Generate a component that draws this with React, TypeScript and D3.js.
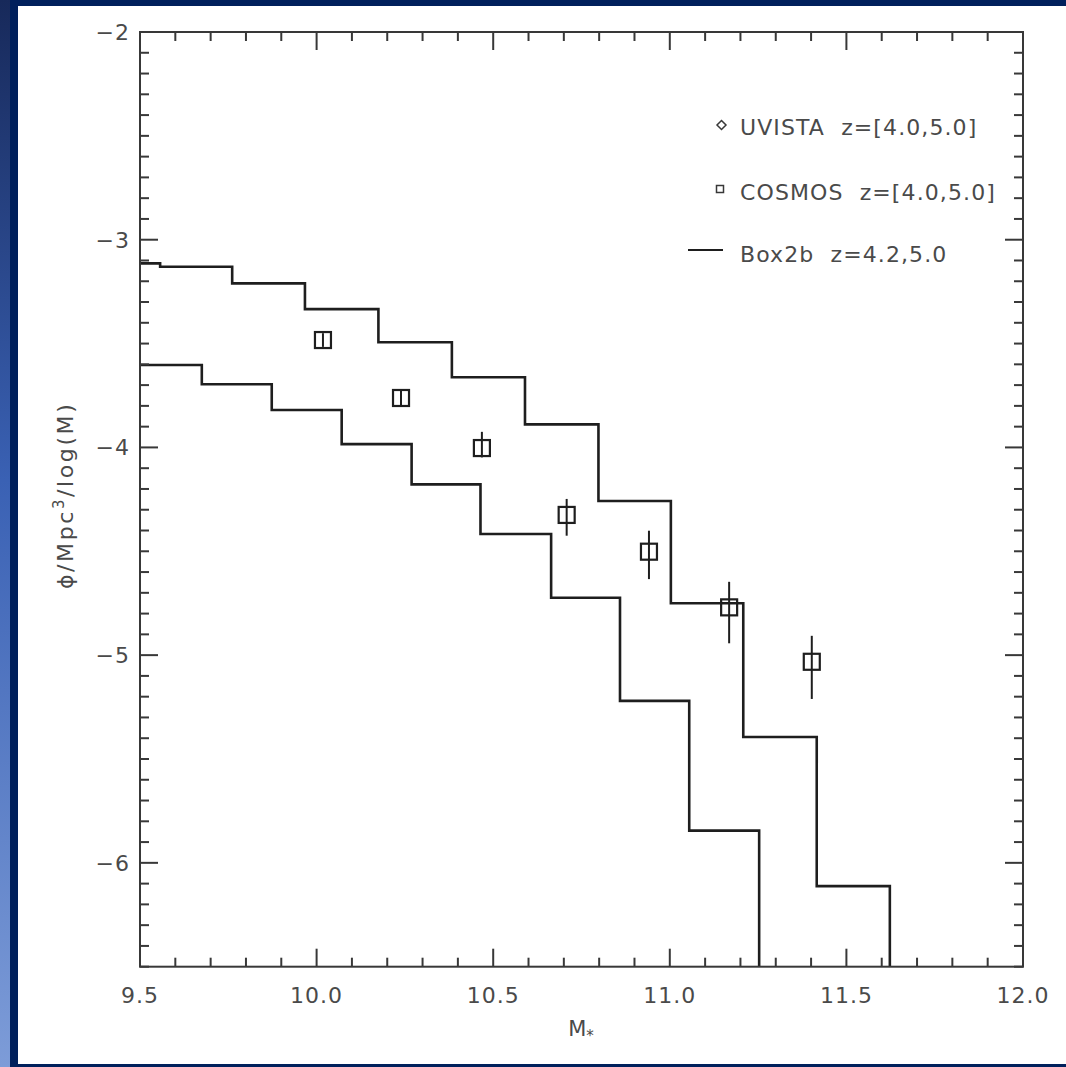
import React from "react";
import * as d3 from "d3";

// Box2b simulated stellar mass function, z = 4.2 (bin edges and log phi per bin)
const box2bZ42Edges = [9.5, 9.557, 9.761, 9.967, 10.175, 10.383, 10.59, 10.798, 11.003, 11.208, 11.416, 11.623];
const box2bZ42Phi = [-3.114, -3.13, -3.21, -3.334, -3.494, -3.662, -3.889, -4.258, -4.75, -5.394, -6.112];

// Box2b simulated stellar mass function, z = 5.0
const box2bZ50Edges = [9.5, 9.675, 9.873, 10.071, 10.269, 10.464, 10.664, 10.859, 11.055, 11.253];
const box2bZ50Phi = [-3.603, -3.696, -3.82, -3.984, -4.178, -4.417, -4.724, -5.22, -5.845];

// COSMOS observations, z = [4.0, 5.0]
const cosmosMass = [10.018, 10.239, 10.468, 10.708, 10.941, 11.168, 11.402];
const cosmosPhi = [-3.483, -3.762, -4.003, -4.325, -4.502, -4.77, -5.032];
const cosmosPhiHigh = [-3.45, -3.725, -3.925, -4.248, -4.401, -4.647, -4.907];
const cosmosPhiLow = [-3.516, -3.8, -4.048, -4.425, -4.634, -4.943, -5.211];

const xTickLabels = ["9.5", "10.0", "10.5", "11.0", "11.5", "12.0"];
const yTickLabels = ["−2", "−3", "−4", "−5", "−6"];

const legendLabels = ["UVISTA  z=[4.0,5.0]", "COSMOS  z=[4.0,5.0]", "Box2b  z=4.2,5.0"];

const W = 1066;
const H = 1067;
const FONT = "'DejaVu Sans', sans-serif";
const INK = "#4a4a4a";
const AXIS = "#383838";
const LINE = "#1e1e1e";

export default function App() {
  const x = d3.scaleLinear().domain([9.5, 12.0]).range([140, 1023]);
  const y = d3.scaleLinear().domain([-6.5, -2.0]).range([966.7, 32]);
  const [x0, x1] = x.range();
  const [y0, y1] = y.range(); // y0 bottom, y1 top

  const stepPath = (edges: number[], vals: number[]) => {
    const pts: [number, number][] = vals.map((v, i) => [edges[i], v]);
    pts.push([edges[edges.length - 1], vals[vals.length - 1]]);
    pts.push([edges[edges.length - 1], -7]);
    return d3
      .line<[number, number]>()
      .x((d) => x(d[0]))
      .y((d) => y(d[1]))
      .curve(d3.curveStepAfter)(pts) as string;
  };

  const xMinor = d3.range(95, 121).map((v) => v / 10);
  const yMinor = d3.range(-65, -19).map((v) => v / 10);
  const isMajorX = (v: number) => Math.abs(v * 2 - Math.round(v * 2)) < 1e-6;
  const isMajorY = (v: number) => Math.abs(v - Math.round(v)) < 1e-6;
  const majorLen = 18;
  const minorLen = 9;

  const xMajors = xTickLabels.map((t) => parseFloat(t));
  const yMajors = yTickLabels.map((t) => parseFloat(t.replace("−", "-")));

  const sq = 16;
  const pre = { whiteSpace: "pre" as const };

  return (
    <svg
      width={W}
      height={H}
      viewBox={`0 0 ${W} ${H}`}
      style={{ position: "absolute", left: 0, top: 0, display: "block" }}
    >
      <defs>
        <linearGradient id="slideBg" x1="0" y1="0" x2="0" y2="1">
          <stop offset="0" stopColor="#17295a" />
          <stop offset="0.45" stopColor="#3a61b4" />
          <stop offset="1" stopColor="#7d9cd8" />
        </linearGradient>
        <clipPath id="plotClip">
          <rect x={x0} y={y1} width={x1 - x0} height={y0 - y1} />
        </clipPath>
      </defs>

      {/* slide frame */}
      <rect x={0} y={0} width={W} height={H} fill="url(#slideBg)" />
      <rect x={10} y={0} width={W - 10} height={H} fill="#00205c" />
      <rect x={18} y={6} width={W - 18} height={1058} fill="#ffffff" />

      {/* step curves */}
      <g clipPath="url(#plotClip)" fill="none" stroke={LINE} strokeWidth={2.6} strokeLinejoin="miter">
        <path d={stepPath(box2bZ42Edges, box2bZ42Phi)} />
        <path d={stepPath(box2bZ50Edges, box2bZ50Phi)} />
      </g>

      {/* COSMOS points with error bars */}
      <g stroke={LINE} fill="none">
        {cosmosMass.map((m, i) => (
          <g key={i}>
            <line x1={x(m)} x2={x(m)} y1={y(cosmosPhiHigh[i])} y2={y(cosmosPhiLow[i])} strokeWidth={2} />
            <rect x={x(m) - sq / 2} y={y(cosmosPhi[i]) - sq / 2} width={sq} height={sq} strokeWidth={2.2} />
          </g>
        ))}
      </g>

      {/* axes box */}
      <rect x={x0} y={y1} width={x1 - x0} height={y0 - y1} fill="none" stroke={AXIS} strokeWidth={2} />

      {/* ticks */}
      <g stroke={AXIS} strokeWidth={2}>
        {xMinor.map((v, i) => {
          const L = isMajorX(v) ? majorLen : minorLen;
          return (
            <g key={`xt${i}`}>
              <line x1={x(v)} x2={x(v)} y1={y0} y2={y0 - L} />
              <line x1={x(v)} x2={x(v)} y1={y1} y2={y1 + L} />
            </g>
          );
        })}
        {yMinor.map((v, i) => {
          const L = isMajorY(v) ? majorLen : minorLen;
          return (
            <g key={`yt${i}`}>
              <line x1={x0} x2={x0 + L} y1={y(v)} y2={y(v)} />
              <line x1={x1} x2={x1 - L} y1={y(v)} y2={y(v)} />
            </g>
          );
        })}
      </g>

      {/* tick labels */}
      <g fill={INK} fontFamily={FONT} fontSize={22} letterSpacing={1}>
        {xTickLabels.map((t, i) => (
          <text key={`xl${i}`} x={x(xMajors[i])} y={1003} textAnchor="middle">
            {t}
          </text>
        ))}
        {yTickLabels.map((t, i) => (
          <text key={`yl${i}`} x={130} y={y(yMajors[i]) + 8} textAnchor="end">
            {t}
          </text>
        ))}
      </g>

      {/* axis titles */}
      <text
        x={581}
        y={1036}
        textAnchor="middle"
        fill={INK}
        fontFamily={FONT}
        fontSize={21}
      >
        M<tspan fontSize={15} dy={5}>*</tspan>
      </text>
      <text
        transform={`translate(73, ${(y0 + y1) / 2 - 4}) rotate(-90)`}
        textAnchor="middle"
        fill={INK}
        fontFamily={FONT}
        fontSize={22}
        letterSpacing={2.6}
      >
        ϕ/Mpc<tspan fontSize={15} dy={-9}>3</tspan>
        <tspan dy={9}>/log(M)</tspan>
      </text>

      {/* legend */}
      <g fill={INK} fontFamily={FONT} fontSize={22} letterSpacing={1.1}>
        <path
          d="M721.5,120.5 L726,125 L721.5,129.5 L717,125 Z"
          fill="none"
          stroke={AXIS}
          strokeWidth={1.5}
        />
        <text x={740} y={135} xmlSpace="preserve" style={pre}>{legendLabels[0]}</text>
        <rect x={716.5} y={185.5} width={7} height={7} fill="none" stroke={AXIS} strokeWidth={1.5} />
        <text x={740} y={200} xmlSpace="preserve" style={pre}>{legendLabels[1]}</text>
        <line x1={688} x2={723} y1={250} y2={250} stroke={LINE} strokeWidth={2} />
        <text x={740} y={262} xmlSpace="preserve" style={pre}>{legendLabels[2]}</text>
      </g>
    </svg>
  );
}
